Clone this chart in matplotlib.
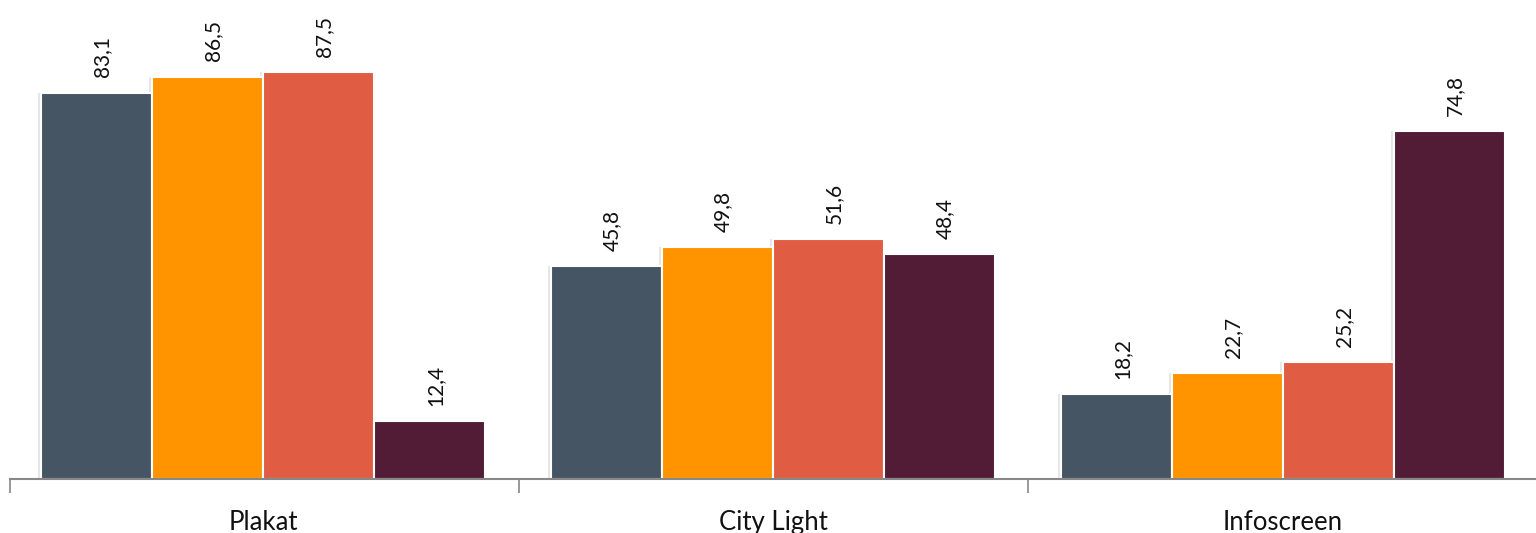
import numpy as np
import matplotlib
matplotlib.use("Agg")
import matplotlib.pyplot as plt

categories = ["Plakat", "City Light", "Infoscreen"]
series_names = ["Serie 1", "Serie 2", "Serie 3", "Serie 4"]
values = [
    [83.1, 45.8, 18.2],
    [86.5, 49.8, 22.7],
    [87.5, 51.6, 25.2],
    [12.4, 48.4, 74.8],
]
colors = ["#465564", "#FF9300", "#E05C42", "#521C37"]

plt.rcParams['font.family'] = ['Lato', 'DejaVu Sans']

fig = plt.figure(figsize=(15.36, 5.33), dpi=100)
ax = fig.add_axes([10/1536, 54/533, 1526/1536, 479/533])

x = np.arange(len(categories))
w = 111/510.0
for i, vals in enumerate(values):
    pos = x + (i - 1.5) * w
    # soft shadow
    ax.bar(pos - 0.006, vals, w, color="#e6e6e6", zorder=1)
    ax.bar(pos, vals, w, color=colors[i], edgecolor="white", linewidth=1.5, zorder=2)
    for p, v in zip(pos, vals):
        ax.annotate(("%.1f" % v).replace(".", ","), (p, v), xytext=(4, 11),
                    textcoords="offset points", rotation=90, ha="center", va="bottom",
                    fontsize=15, color="#111111")

ax.set_xlim(-0.496, 2.504 - 4/510.0)
ax.set_ylim(0, 103)
for s in ["top", "left", "right"]:
    ax.spines[s].set_visible(False)
ax.spines["bottom"].set_color("#888888")
ax.spines["bottom"].set_linewidth(1.5)
ax.set_yticks([])
ax.set_xticks([-0.496, 0.502, 1.5])
ax.set_xticklabels([])
ax.tick_params(axis="x", length=10, width=1.2, color="#888888", direction="out")
ax.set_xticks(x, minor=True)
ax.set_xticklabels(categories, minor=True, fontsize=18.5, color="#111111")
ax.tick_params(axis="x", which="minor", length=0, pad=22)

fig.savefig("out.png", dpi=100)
